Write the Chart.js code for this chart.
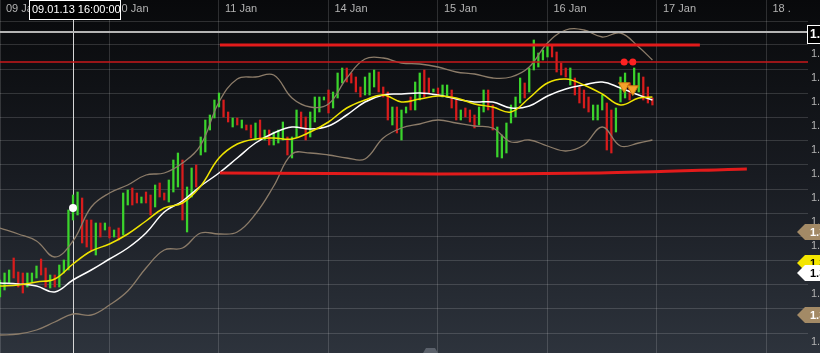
<!DOCTYPE html>
<html>
<head>
<meta charset="utf-8">
<script src="https://cdn.jsdelivr.net/npm/chart.js@4.4.1/dist/chart.umd.min.js"></script>
<style>
  html, body { margin: 0; padding: 0; background: #0b0c0f; }
  #wrap { width: 820px; height: 353px; }
</style>
</head>
<body>
<div id="wrap"><canvas id="chart" width="820" height="353"></canvas></div>
<script>
// ---------------------- data ---------------------- >>
// x = trading hours since 09 Jan 00:00 (weekend skipped), one bar per hour
const dayHours = [0, 24, 48, 72, 96, 120, 144, 168];
const dayLabels = ['09 Jan', '10 Jan', '11 Jan', '14 Jan', '15 Jan', '16 Jan', '17 Jan', '18 .'];
const priceTicks = [1.3424, 1.3400, 1.3376, 1.3352, 1.3328, 1.3304, 1.3280, 1.3256, 1.3232, 1.3208, 1.3184, 1.3160, 1.3136, 1.3112];

const highs = [
  1.3165, 1.3172, 1.3175, 1.3187, 1.3173, 1.3172, 1.3172, 1.3172, 1.3179, 1.3186,
  1.3177, 1.3170, 1.3170, 1.3180, 1.3185, 1.3235, 1.3250, 1.3253, 1.3247, 1.3225,
  1.3225, 1.3222, 1.3222, 1.3222, 1.3218, 1.3215, 1.3217, 1.3252, 1.3255, 1.3257,
  1.3252, 1.3248, 1.3253, 1.3250, 1.3260, 1.3262, 1.3252, 1.3265, 1.3285, 1.3292,
  1.3285, 1.3258, 1.3277, 1.3280, 1.3308, 1.3325, 1.3330, 1.3345, 1.3352, 1.3345,
  1.3333, 1.3327, 1.3327, 1.3325, 1.3320, 1.3320, 1.3322, 1.3325, 1.3315, 1.3315,
  1.3313, 1.3315, 1.3323, 1.3308, 1.3308, 1.3335, 1.3333, 1.3328, 1.3333, 1.3348,
  1.3348, 1.3348, 1.3355, 1.3353, 1.3372, 1.3377, 1.3377, 1.3372, 1.3368, 1.3358,
  1.3368, 1.3372, 1.3375, 1.3373, 1.3358, 1.3353, 1.3338, 1.3338, 1.3335, 1.3338,
  1.3348, 1.3363, 1.3372, 1.3375, 1.3367, 1.3356, 1.3357, 1.3360, 1.3360, 1.3355,
  1.3345, 1.3335, 1.3337, 1.3335, 1.3330, 1.3338, 1.3355, 1.3355, 1.3340, 1.3318,
  1.3310, 1.3322, 1.3340, 1.3348, 1.3367, 1.3362, 1.3377, 1.3405, 1.3392, 1.3395,
  1.3400, 1.3400, 1.3393, 1.3382, 1.3377, 1.3377, 1.3367, 1.3358, 1.3355, 1.3348,
  1.3340, 1.3340, 1.3350, 1.3342, 1.3335, 1.3337, 1.3368, 1.3372, 1.3362, 1.3377,
  1.3372, 1.3368, 1.3358, 1.3347
];
const lows = [
  1.3148, 1.3155, 1.3162, 1.3167, 1.3158, 1.3152, 1.3158, 1.3163, 1.3167, 1.3170,
  1.3158, 1.3157, 1.3158, 1.3158, 1.3172, 1.3175, 1.3225, 1.3230, 1.3202, 1.3198,
  1.3195, 1.3190, 1.3208, 1.3215, 1.3207, 1.3208, 1.3205, 1.3210, 1.3240, 1.3240,
  1.3242, 1.3242, 1.3242, 1.3230, 1.3238, 1.3248, 1.3245, 1.3243, 1.3253, 1.3258,
  1.3225, 1.3213, 1.3248, 1.3258, 1.3290, 1.3293, 1.3315, 1.3327, 1.3338, 1.3328,
  1.3323, 1.3318, 1.3320, 1.3317, 1.3315, 1.3307, 1.3305, 1.3305, 1.3305, 1.3300,
  1.3300, 1.3302, 1.3305, 1.3290, 1.3287, 1.3308, 1.3317, 1.3305, 1.3308, 1.3323,
  1.3333, 1.3345, 1.3332, 1.3337, 1.3347, 1.3362, 1.3363, 1.3362, 1.3353, 1.3348,
  1.3350, 1.3350, 1.3358, 1.3353, 1.3348, 1.3325, 1.3320, 1.3312, 1.3305, 1.3332,
  1.3335, 1.3335, 1.3345, 1.3348, 1.3352, 1.3353, 1.3350, 1.3348, 1.3348, 1.3337,
  1.3325, 1.3325, 1.3328, 1.3323, 1.3317, 1.3320, 1.3333, 1.3335, 1.3315, 1.3288,
  1.3287, 1.3292, 1.3322, 1.3328, 1.3342, 1.3347, 1.3353, 1.3375, 1.3378, 1.3385,
  1.3388, 1.3388, 1.3373, 1.3370, 1.3368, 1.3360, 1.3350, 1.3342, 1.3337, 1.3333,
  1.3325, 1.3325, 1.3335, 1.3295, 1.3292, 1.3313, 1.3343, 1.3347, 1.3345, 1.3353,
  1.3353, 1.3345, 1.3342, 1.3340
];
// 1 = up bar (green), 0 = down bar (red)
const upBar = [
  1,1,1,0,0,0,1,1,1,0,  0,1,0,1,1,1,1,1,0,0,  0,1,0,1,0,1,0,1,1,0,
  0,1,0,0,1,0,0,1,1,1,  0,1,1,0,1,1,1,1,1,0,  0,1,0,1,0,0,1,0,1,0,
  1,1,1,0,1,1,0,0,1,1,  1,1,0,1,1,1,0,0,0,0,  1,1,1,0,0,0,1,0,1,1,
  0,1,1,0,0,1,0,1,1,0,  0,1,0,0,0,1,1,0,0,1,  1,1,1,1,1,0,1,1,1,1,
  1,0,0,0,0,1,0,0,0,0,  1,1,1,0,0,1,1,1,0,1,  1,0,0,0
];

// indicators, read every 4 hours
const lineHours = [0, 4, 8, 12, 16, 20, 24, 28, 32, 36, 40, 44, 48, 52, 56, 60, 64, 68, 72,
  76, 80, 84, 88, 92, 96, 100, 104, 108, 112, 116, 120, 124, 128, 132, 136, 140, 143];
const upperBand = [1.3217, 1.3211, 1.3204, 1.3188, 1.3204, 1.3238, 1.3252, 1.3260, 1.3270, 1.3272,
  1.3282, 1.3300, 1.3343, 1.3366, 1.3368, 1.3370, 1.3347, 1.3338, 1.3341, 1.3367, 1.3386, 1.3387,
  1.3382, 1.3381, 1.3378, 1.3373, 1.3371, 1.3367, 1.3368, 1.3378, 1.3402, 1.3415, 1.3415, 1.3408,
  1.3412, 1.3398, 1.3385];
const lowerBand = [1.3110, 1.3111, 1.3115, 1.3123, 1.3131, 1.3130, 1.3140, 1.3154, 1.3177, 1.3195,
  1.3197, 1.3212, 1.3211, 1.3213, 1.3231, 1.3259, 1.3291, 1.3292, 1.3290, 1.3287, 1.3286, 1.3307,
  1.3317, 1.3321, 1.3325, 1.3322, 1.3319, 1.3317, 1.3303, 1.3305, 1.3299, 1.3294, 1.3300, 1.3318,
  1.3299, 1.3302, 1.3305];
const fastMa = [1.3159, 1.3160, 1.3163, 1.3166, 1.3181, 1.3194, 1.3201, 1.3211, 1.3224, 1.3237,
  1.3242, 1.3259, 1.3287, 1.3301, 1.3306, 1.3307, 1.3306, 1.3313, 1.3323, 1.3337, 1.3345, 1.3350,
  1.3343, 1.3346, 1.3349, 1.3347, 1.3341, 1.3338, 1.3333, 1.3347, 1.3362, 1.3366, 1.3360, 1.3351,
  1.3340, 1.3347, 1.3348];
const slowMa = [1.3162, 1.3161, 1.3159, 1.3153, 1.3165, 1.3175, 1.3186, 1.3197, 1.3212, 1.3233,
  1.3244, 1.3259, 1.3272, 1.3287, 1.3302, 1.3312, 1.3318, 1.3316, 1.3319, 1.3330, 1.3343, 1.3350,
  1.3351, 1.3352, 1.3350, 1.3346, 1.3343, 1.3343, 1.3337, 1.3339, 1.3349, 1.3356, 1.3360, 1.3363,
  1.3357, 1.3350, 1.3345];

// drawn levels
const markedLevel = 1.3413;
const resistanceLevel = 1.3400;
const resistanceHours = [48.2, 153.4];
const alertLevel = 1.3383;
const supportHours = [48.2, 96, 131.5, 163.7];
const supportPrices = [1.3272, 1.3271, 1.3272, 1.3276];

// signals
const signalHours = [136.8, 138.7];
const signalArrows = [1.3359, 1.3356];
const crossHour = 16;
const crossPrice = 1.3237;
const crossLabel = '09.01.13 16:00:00';
const tagPrices = [1.3213, 1.3182, 1.3172, 1.3130];
const tagColors = ['#a38a66', '#f4e600', '#ffffff', '#a38a66'];
const tagText = ['#ffffff', '#000000', '#000000', '#ffffff'];

// --------------------------- chart ---------------------- >>
Chart.defaults.font.family = "'Liberation Sans', Arial, sans-serif";
Chart.defaults.font.size = 11;

const gridColor = 'rgba(255,255,255,0.15)';
const xEnd = 177.1;

function pts(xs, ys) { return xs.map((x, i) => ({x: x, y: ys[i]})); }
function noPad(s) { s.paddingLeft = 0; s.paddingRight = 0; s.paddingTop = 0; s.paddingBottom = 0; }

const backdrop = {
  id: 'backdrop',
  beforeDraw(chart) {
    const {ctx, width, height} = chart;
    const g = ctx.createLinearGradient(0, 0, 0, height);
    g.addColorStop(0, '#08090b');
    g.addColorStop(0.5, '#181b21');
    g.addColorStop(1, '#2d333c');
    ctx.save();
    ctx.fillStyle = g;
    ctx.fillRect(0, 0, width, height);
    ctx.restore();
  },
  beforeDatasetsDraw(chart) {
    const {ctx, height, scales: {x}} = chart;
    const cx = Math.round(x.getPixelForValue(crossHour)) + 0.5;
    ctx.save();
    ctx.strokeStyle = '#d6d6d6';
    ctx.lineWidth = 1;
    ctx.beginPath();
    ctx.moveTo(cx, 0);
    ctx.lineTo(cx, height);
    ctx.stroke();
    ctx.restore();
  },
  afterDraw(chart) {
    const {ctx, width, scales: {x, y}} = chart;
    ctx.save();
    // crosshair time box
    const cx = x.getPixelForValue(crossHour);
    ctx.fillStyle = '#000';
    ctx.fillRect(cx - 44, 0, 91, 19);
    ctx.strokeStyle = '#ffffff';
    ctx.lineWidth = 1;
    ctx.strokeRect(cx - 43.5, 0.5, 91, 19);
    ctx.fillStyle = '#ffffff';
    ctx.font = "11px 'Liberation Sans', Arial, sans-serif";
    ctx.textBaseline = 'middle';
    ctx.textAlign = 'left';
    ctx.fillText(crossLabel, cx - 41, 10);

    // value box for the marked level
    const my = y.getPixelForValue(markedLevel);
    ctx.fillStyle = '#000';
    ctx.fillRect(807, my - 7, 14, 19);
    ctx.strokeRect(807.5, my - 6.5, 14, 18);
    ctx.fillStyle = '#ffffff';
    ctx.font = "bold 12px 'Liberation Sans', Arial, sans-serif";
    ctx.fillText(markedLevel.toFixed(4), 810, my + 3);

    // indicator tags on the price axis
    tagPrices.forEach((p, i) => {
      const ty = y.getPixelForValue(p);
      ctx.beginPath();
      ctx.moveTo(797, ty);
      ctx.lineTo(805, ty - 8);
      ctx.lineTo(width, ty - 8);
      ctx.lineTo(width, ty + 8);
      ctx.lineTo(805, ty + 8);
      ctx.closePath();
      ctx.fillStyle = tagColors[i];
      ctx.fill();
      ctx.fillStyle = tagText[i];
      ctx.font = "bold 11px 'Liberation Sans', Arial, sans-serif";
      ctx.fillText(p.toFixed(4), 810, ty + 1);
    });

    // small handle at the bottom
    ctx.fillStyle = '#5b616b';
    ctx.beginPath();
    ctx.moveTo(423, 353);
    ctx.lineTo(426, 348);
    ctx.lineTo(435, 348);
    ctx.lineTo(438, 353);
    ctx.closePath();
    ctx.fill();
    ctx.restore();
  }
};

const ctx = document.getElementById('chart').getContext('2d');
const chart = new Chart(ctx, {
  type: 'bar',
  data: {
    datasets: [
      {
        type: 'bar',
        data: highs.map((h, i) => ({x: i, y: [lows[i], h]})),
        backgroundColor: upBar.map(u => u ? '#3bd42c' : '#d81c1c'),
        barThickness: 1.6,
        borderWidth: 0,
        grouped: false,
        order: 10
      },
      { type: 'line', data: pts(lineHours, upperBand), borderColor: '#8c7c69', borderWidth: 1.3, pointRadius: 0, tension: 0.4, order: 6 },
      { type: 'line', data: pts(lineHours, lowerBand), borderColor: '#8c7c69', borderWidth: 1.3, pointRadius: 0, tension: 0.4, order: 6 },
      { type: 'line', data: pts(lineHours, slowMa), borderColor: '#ffffff', borderWidth: 1.5, pointRadius: 0, tension: 0.4, order: 5 },
      { type: 'line', data: pts(lineHours, fastMa), borderColor: '#efe400', borderWidth: 1.5, pointRadius: 0, tension: 0.4, order: 4 },
      { type: 'line', data: [{x: 0, y: markedLevel}, {x: xEnd, y: markedLevel}], borderColor: '#b4b4b4', borderWidth: 2, pointRadius: 0, order: 3 },
      { type: 'line', data: [{x: 0, y: alertLevel}, {x: xEnd, y: alertLevel}], borderColor: '#c8191b', borderWidth: 1.5, pointRadius: 0, order: 3 },
      { type: 'line', data: resistanceHours.map(h => ({x: h, y: resistanceLevel})), borderColor: '#e21b1b', borderWidth: 3, pointRadius: 0, order: 3 },
      { type: 'line', data: pts(supportHours, supportPrices), borderColor: '#e21b1b', borderWidth: 3, pointRadius: 0, tension: 0.3, order: 3 },
      { type: 'line', data: signalHours.map(h => ({x: h, y: alertLevel})), showLine: false, pointRadius: 3.5, pointBackgroundColor: '#ff2222', pointBorderWidth: 0, order: 1 },
      { type: 'line', data: pts(signalHours, signalArrows), showLine: false, pointStyle: 'triangle', rotation: 180, pointRadius: 6.5, pointBackgroundColor: '#f6a22a', pointBorderColor: '#c9780f', pointBorderWidth: 1, order: 1 },
      { type: 'line', data: [{x: crossHour, y: crossPrice}], showLine: false, pointRadius: 4, pointBackgroundColor: '#ffffff', pointBorderWidth: 0, order: 1 }
    ]
  },
  options: {
    responsive: false,
    animation: false,
    devicePixelRatio: 1,
    layout: { padding: 0, autoPadding: false },
    plugins: { legend: { display: false }, tooltip: { enabled: false } },
    scales: {
      x: {
        type: 'linear',
        position: 'top',
        min: 0,
        max: xEnd,
        offset: false,
        grid: { color: gridColor, offset: false, tickLength: 21 },
        border: { display: false },
        afterBuildTicks: s => { s.ticks = dayHours.map(v => ({value: v})); },
        afterFit: s => { s.height = 21; noPad(s); },
        ticks: {
          autoSkip: false,
          maxRotation: 0,
          align: 'start',
          labelOffset: 6,
          padding: -15.5,
          color: '#b3b3b3',
          callback: (v, i) => dayLabels[i]
        }
      },
      y: {
        type: 'linear',
        position: 'right',
        min: 1.3092,
        max: 1.3424,
        grid: { color: gridColor, drawTicks: false },
        border: { display: false },
        afterBuildTicks: s => { s.ticks = priceTicks.map(v => ({value: v})); },
        afterFit: s => { s.width = 12; noPad(s); },
        ticks: {
          padding: 3,
          labelOffset: 9,
          color: '#b3b3b3',
          callback: v => v.toFixed(4)
        }
      }
    }
  },
  plugins: [backdrop]
});
</script>
</body>
</html>
